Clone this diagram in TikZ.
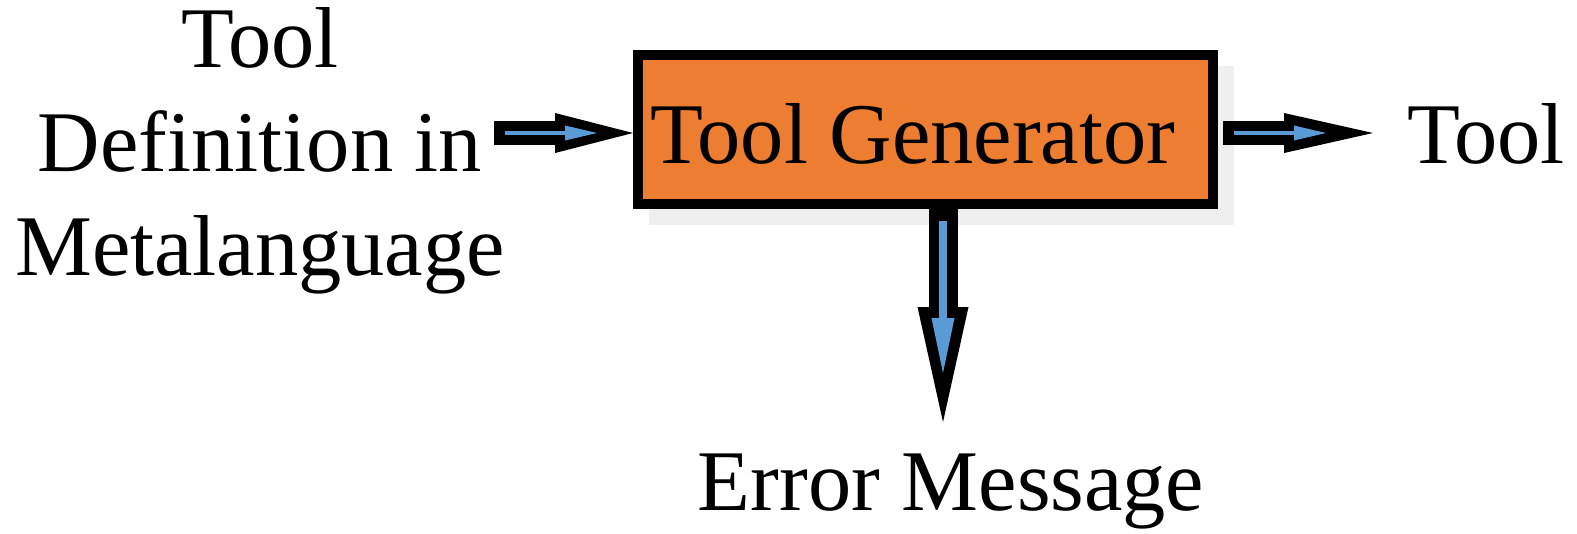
\documentclass[tikz,border=0pt]{standalone}
\usepackage{fontspec}
\setmainfont{Liberation Serif}
\usetikzlibrary{arrows.meta}
\definecolor{genorange}{HTML}{ED7D31}
\definecolor{flowblue}{HTML}{5B9BD5}
\definecolor{shadowgrey}{HTML}{EFEFEF}
\tikzset{
  txt/.style={font=\fontsize{24.6}{29.5}\selectfont, inner sep=0pt},
  genbox/.style={draw=black, line width=1mm, fill=genorange,
    minimum width=57.5mm, minimum height=14.9mm, inner sep=0pt},
  hflow/.style={line width=2.4mm, -{Triangle[length=#1, width=4mm, line width=0pt]}},
  hcore/.style={flowblue, line width=0.45mm, -{Triangle[length=3.2mm, width=1.5mm, line width=0pt]}},
  vflow/.style={line width=2.9mm, -{Triangle[length=11.5mm, width=5.1mm, line width=0pt]}},
  vcore/.style={flowblue, line width=0.8mm, -{Triangle[length=5.5mm, width=2.3mm, line width=0pt]}},
}
\begin{document}
\begin{tikzpicture}[x=0.1mm, y=-0.1mm]
  \useasboundingbox (0,0) rectangle (1577,533);
  % drop shadow behind the generator box
  \fill[shadowgrey] (649,66) rectangle (1234,225);
  \node[genbox] (gen) at (925.5,129.5) {};
  \node[txt, anchor=base] (gentxt) at (913,163) {Tool Generator};

  % inputs and outputs
  \node[txt, align=center] (def) at (260,151) {Tool\\Definition in\\Metalanguage};
  \node[txt, anchor=base] (tool) at (1486,163) {Tool};
  \node[txt, anchor=base] (err) at (951,510) {Error Message};

  % arrow end points
  \coordinate (inS) at (494,133);
  \coordinate (inCs) at (505,133);
  \coordinate (inCe) at (597,133);
  \coordinate (outS) at (1223,133);
  \coordinate (outE) at (1373,133);
  \coordinate (outCs) at (1234,133);
  \coordinate (outCe) at (1326,133);
  \coordinate (errS) at (943,209);
  \coordinate (errE) at (943,422);
  \coordinate (errCs) at (943,221);
  \coordinate (errCe) at (943,373);

  % definition -> generator
  \draw[hflow=7.8mm] (inS) -- (gen.west |- inS);
  \draw[hcore] (inCs) -- (inCe);
  % generator -> tool
  \draw[hflow=8.9mm] (outS) -- (outE);
  \draw[hcore] (outCs) -- (outCe);
  % generator -> error message
  \draw[vflow] (errS) -- (errE);
  \draw[vcore] (errCs) -- (errCe);
\end{tikzpicture}
\end{document}
